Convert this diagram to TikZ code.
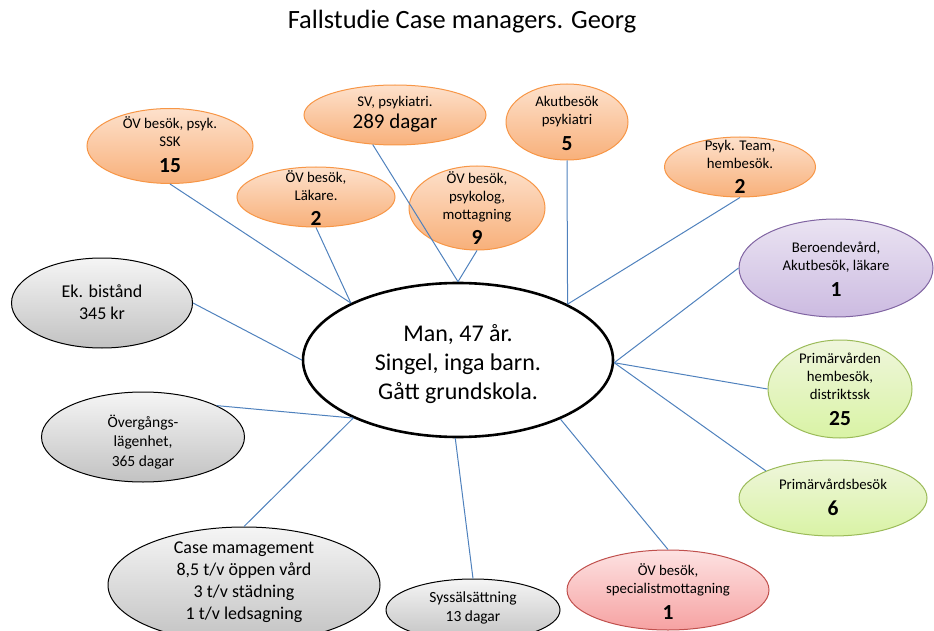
\documentclass[tikz,border=0pt]{standalone}
\usepackage{fontspec}
\setmainfont{Carlito}
\usetikzlibrary{shapes.geometric}

\definecolor{linkblue}{HTML}{4F81BD}
\definecolor{peachline}{HTML}{F79646}
\definecolor{peachtop}{HTML}{FDE1CC}
\definecolor{peachbot}{HTML}{F8B07A}
\definecolor{lilacline}{HTML}{8064A2}
\definecolor{lilactop}{HTML}{EAE3F2}
\definecolor{lilacbot}{HTML}{CCBBE1}
\definecolor{limeline}{HTML}{9BBB59}
\definecolor{limetop}{HTML}{EFF6DC}
\definecolor{limebot}{HTML}{D9F3A5}
\definecolor{roseline}{HTML}{C0504D}
\definecolor{rosetop}{HTML}{FDE2E2}
\definecolor{rosebot}{HTML}{F6A2A2}
\definecolor{greytop}{HTML}{F5F5F5}
\definecolor{greybot}{HTML}{C2C2C2}

\newcommand\bignum[1]{{\fontsize{21.5}{24}\selectfont\bfseries #1}}

\tikzset{
  bub/.style={ellipse, inner sep=0pt, line width=1pt},
  bsize/.style 2 args={minimum width=#1, minimum height=#2},
  peachbub/.style={bub, draw=peachline, top color=peachtop, bottom color=peachbot},
  lilacbub/.style={bub, draw=lilacline, top color=lilactop, bottom color=lilacbot},
  limebub/.style={bub, draw=limeline, top color=limetop, bottom color=limebot},
  rosebub/.style={bub, draw=roseline, top color=rosetop, bottom color=rosebot},
  greybub/.style={bub, draw=black, top color=greytop, bottom color=greybot},
  hub/.style={ellipse, inner sep=0pt, draw=black, line width=2.6pt, fill=white},
  small/.style={align=center, inner sep=0pt, font=\fontsize{14.8}{18}\selectfont},
  mid/.style={align=center, inner sep=0pt, font=\fontsize{15.5}{19.5}\selectfont},
  large/.style={align=center, inner sep=0pt, font=\fontsize{18}{22}\selectfont},
  link/.style={draw=linkblue, line width=1pt},
}

\begin{document}
\begin{tikzpicture}[x=1pt, y=-1pt]
\useasboundingbox (0,0) rectangle (934,631);
\clip (0,0) rectangle (934,631);

% title
\node[inner sep=0pt, font=\fontsize{26.4}{30}\selectfont] (title) at (462,22) {Fallstudie Case managers. Georg};

% central person
\node[hub, minimum width=310pt, minimum height=154pt] (c) at (458,360) {};
\node[align=center, inner sep=0pt, font=\fontsize{24}{29}\selectfont] (ct) at (458,364)
  {Man, 47 år.\\Singel, inga barn.\\Gått grundskola.};

% psychiatric and outpatient contacts
\node[peachbub, bsize={166pt}{75pt}] (ssk) at (170,146) {};
\node[small] (sskt) at (170,145) {ÖV besök, psyk.\\SSK\\[8pt]\bignum{15}};

\node[peachbub, bsize={182pt}{60pt}] (sv) at (395,115) {};
\node[small] (svt) at (395,114) {SV, psykiatri.\\[4pt]{\fontsize{21}{24}\selectfont 289 dagar}};

\node[peachbub, bsize={158pt}{60pt}] (lak) at (316,197) {};
\node[small] (lakt) at (316,198) {ÖV besök,\\Läkare.\\[7pt]\bignum{2}};

\node[peachbub, bsize={136pt}{84pt}] (psyk) at (477,208) {};
\node[small] (psykt) at (477,208) {ÖV besök,\\psykolog,\\mottagning\\[7pt]\bignum{9}};

\node[peachbub, bsize={122pt}{76pt}] (akut) at (567,122) {};
\node[small] (akutt) at (567,123) {Akutbesök\\psykiatri\\[8pt]\bignum{5}};

\node[peachbub, bsize={151pt}{60pt}] (team) at (740,167) {};
\node[small] (teamt) at (740,167) {Psyk. Team,\\hembesök.\\[7pt]\bignum{2}};

\node[lilacbub, bsize={194pt}{98pt}] (bero) at (836,268) {};
\node[small] (berot) at (836,269) {Beroendevård,\\Akutbesök, läkare\\[8pt]\bignum{1}};

\node[limebub, bsize={144pt}{98pt}] (prim1) at (840,389) {};
\node[small] (prim1t) at (840,389) {Primärvården\\hembesök,\\distriktssk\\[8pt]\bignum{25}};

\node[limebub, bsize={188pt}{76pt}] (prim2) at (833,498) {};
\node[small] (prim2t) at (833,497) {Primärvårdsbesök\\[8pt]\bignum{6}};

\node[rosebub, bsize={202pt}{80pt}] (spec) at (668,590) {};
\node[small] (spect) at (668,592) {ÖV besök,\\specialistmottagning\\[8pt]\bignum{1}};

% social support
\node[greybub, bsize={181pt}{90pt}] (ek) at (102,303) {};
\node[large] (ekt) at (102,302) {Ek. bistånd\\345 kr};

\node[greybub, bsize={203pt}{90pt}] (overg) at (143,437) {};
\node[mid] (overgt) at (143,442) {Övergångs-\\lägenhet,\\365 dagar};

\node[greybub, bsize={272pt}{116pt}] (case) at (244,585) {};
\node[large] (caset) at (244,582) {Case mamagement\\8,5 t/v öppen vård\\3 t/v städning\\1 t/v ledsagning};

\node[greybub, bsize={174pt}{62pt}] (syss) at (473,610) {};
\node[mid] (sysst) at (473,608) {Syssälsättning\\13 dagar};

% connectors to the central person
\draw[link] (ssk.south) -- (c.152.6);
\draw[link] (lak.south) -- (c.152.6);
\draw[link] (sv.233) -- (c.90);
\draw[link] (psyk.south) -- (c.90);
\draw[link] (akut.south) -- (c.27);
\draw[link] (team.south) -- (c.27);
\draw[link] (bero.west) -- (c.-1);
\draw[link] (prim1.west) -- (c.-1);
\draw[link] (prim2.158) -- (c.-1);
\draw[link] (spec.north) -- (c.-30);
\draw[link] (syss.north) -- (c.268);
\draw[link] (case.north) -- (c.209);
\draw[link] (overg.23) -- (c.209);
\draw[link] (ek.east) -- (c.180);
\end{tikzpicture}
\end{document}
